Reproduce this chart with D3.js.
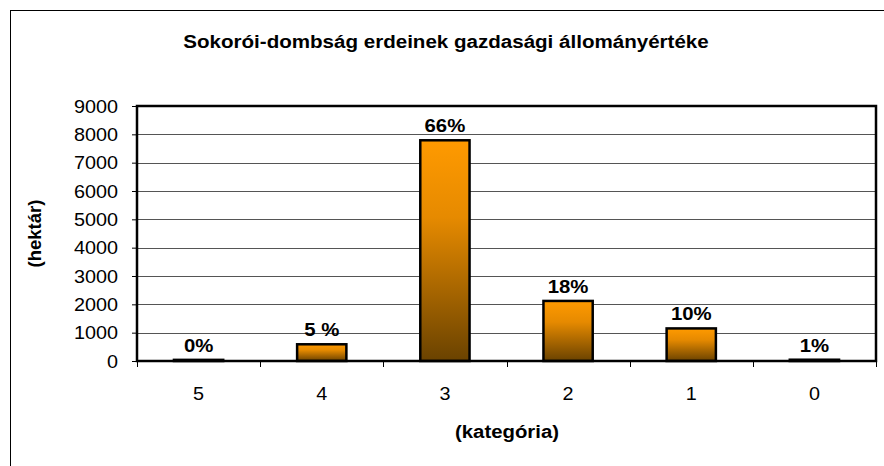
<!DOCTYPE html>
<html>
<head>
<meta charset="utf-8">
<script src="https://cdn.jsdelivr.net/npm/d3@7"></script>
<style>
  body { margin: 0; background: #fff; }
  svg { font-family: "Liberation Sans", Arial, sans-serif; }
</style>
</head>
<body>
<div id="chart"></div>
<script>
// Chart data
const categories = ['5', '4', '3', '2', '1', '0'];
const hectares = [40, 590, 7790, 2120, 1150, 45];
const percentLabels = ['0%', '5 %', '66%', '18%', '10%', '1%'];
const yTicks = [0, 1000, 2000, 3000, 4000, 5000, 6000, 7000, 8000, 9000];

const width = 884, height = 466;
// Plot area inside the outer frame
const margin = { top: 106, right: 8, bottom: 105, left: 137 };
// The original picture is slightly wider than tall, so the text is stretched
const stretch = 1.1;

const svg = d3.select('#chart').append('svg')
  .attr('width', width)
  .attr('height', height);

/* Add a horizontally stretched text at (x, y)
*/
function label(parent, x, y, str, size, bold, anchor = 'middle') {
  return parent.append('text')
    .attr('transform', `translate(${x}, ${y}) scale(${stretch}, 1)`)
    .attr('text-anchor', anchor)
    .style('font-size', size + 'px')
    .style('font-weight', bold ? 'bold' : 'normal')
    .text(str);
}

// Bar gradient: orange at the top, brown at the bottom
const grad = svg.append('defs').append('linearGradient')
  .attr('id', 'barFill')
  .attr('x1', 0).attr('y1', 0).attr('x2', 0).attr('y2', 1);
grad.append('stop').attr('offset', '0%').attr('stop-color', '#ff9a00');
grad.append('stop').attr('offset', '35%').attr('stop-color', '#e68a00');
grad.append('stop').attr('offset', '100%').attr('stop-color', '#6a4200');

// Outer frame (runs off the right and bottom edge)
svg.append('rect')
  .attr('x', 10.5).attr('y', 10.5)
  .attr('width', width + 10).attr('height', height + 10)
  .attr('fill', 'none')
  .attr('stroke', '#000')
  .attr('stroke-width', 1);

const plotW = width - margin.left - margin.right;
const plotH = height - margin.top - margin.bottom;

const chart = svg.append('g')
  .attr('transform', `translate(${margin.left}, ${margin.top})`);

const x = d3.scaleBand()
  .domain(categories)
  .range([0, plotW])
  .paddingInner(0.6)
  .paddingOuter(0.3);

const y = d3.scaleLinear()
  .domain([0, 9000])
  .range([plotH, 0]);

// Gridlines
chart.append('g')
  .selectAll('line')
  .data(yTicks.slice(1))
  .join('line')
    .attr('x1', 0).attr('x2', plotW)
    .attr('y1', d => Math.round(y(d)) + 0.5)
    .attr('y2', d => Math.round(y(d)) + 0.5)
    .attr('stroke', '#555')
    .attr('stroke-width', 1);

// Y axis: ticks from the library, labels drawn stretched
const yAxis = chart.append('g')
  .call(d3.axisLeft(y).tickValues(yTicks).tickSize(5).tickFormat(''));
yAxis.select('.domain').remove();
yAxis.selectAll('line').attr('stroke', '#000');
yTicks.forEach(t => {
  label(chart, -19, y(t) + 6.5, d3.format('d')(t), 18, false, 'end');
});

// X axis: ticks between categories
const xAxis = chart.append('g')
  .attr('transform', `translate(0, ${plotH})`);
xAxis.selectAll('line')
  .data(d3.range(categories.length + 1))
  .join('line')
    .attr('x1', i => Math.round(i * plotW / categories.length) + 0.5)
    .attr('x2', i => Math.round(i * plotW / categories.length) + 0.5)
    .attr('y1', 0).attr('y2', 6)
    .attr('stroke', '#000');
categories.forEach(c => {
  label(xAxis, x(c) + x.bandwidth() / 2, 39, c, 18, false);
});

// Bars
chart.append('g')
  .selectAll('rect')
  .data(hectares)
  .join('rect')
    .attr('x', (d, i) => x(categories[i]))
    .attr('y', d => y(d))
    .attr('width', x.bandwidth())
    .attr('height', d => plotH - y(d))
    .attr('fill', 'url(#barFill)')
    .attr('stroke', '#000')
    .attr('stroke-width', 2.5);

// Percentage labels
hectares.forEach((d, i) => {
  label(chart, x(categories[i]) + x.bandwidth() / 2, y(d) - 8,
        percentLabels[i], 18.5, true);
});

// Plot area border
chart.append('rect')
  .attr('x', 0).attr('y', 0)
  .attr('width', plotW).attr('height', plotH)
  .attr('fill', 'none')
  .attr('stroke', '#000')
  .attr('stroke-width', 2.5);

// Title
label(svg, 446, 48, 'Sokorói-dombság erdeinek gazdasági állományértéke', 18.7, true);

// Axis titles
label(svg, 507, 438, '(kategória)', 18.5, true);

svg.append('text')
  .attr('transform', `translate(41, ${margin.top + plotH / 2}) rotate(-90)`)
  .attr('text-anchor', 'middle')
  .style('font-size', '18.5px')
  .style('font-weight', 'bold')
  .text('(hektár)');
</script>
</body>
</html>
